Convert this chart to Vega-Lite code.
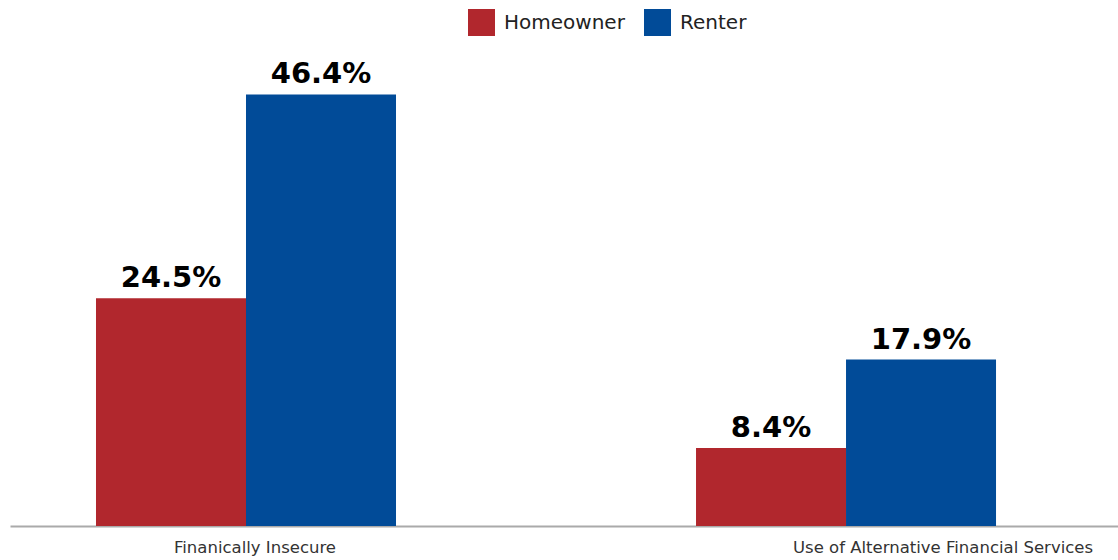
{
  "$schema": "https://vega.github.io/schema/vega-lite/v6.json",
  "autosize": {"type": "none"},
  "padding": {"left": 10, "top": 61, "right": 0, "bottom": 34},
  "width": 1108,
  "height": 465,
  "config": {"view": {"stroke": null}},
  "data": {
    "values": [
      {"category": "Finanically Insecure", "tenure": "Homeowner", "value": 24.5, "label": "24.5%"},
      {"category": "Finanically Insecure", "tenure": "Renter", "value": 46.4, "label": "46.4%"},
      {"category": "Use of Alternative Financial Services", "tenure": "Homeowner", "value": 8.4, "label": "8.4%"},
      {"category": "Use of Alternative Financial Services", "tenure": "Renter", "value": 17.9, "label": "17.9%"}
    ]
  },
  "encoding": {
    "x": {
      "field": "category",
      "type": "nominal",
      "sort": null,
      "scale": {"paddingInner": 0.5, "paddingOuter": 0.1733, "align": 0.4135},
      "axis": {
        "title": null,
        "labelAngle": 0,
        "ticks": false,
        "domainColor": "#aaaaaa",
        "domainWidth": 2,
        "labelFont": "DejaVu Sans",
        "labelFontSize": 16.5,
        "labelColor": "#333333",
        "labelPadding": 13,
        "labelLimit": 0,
        "labelOffset": {"condition": {"test": "datum.value == 'Use of Alternative Financial Services'", "value": 97}, "value": 9}
      }
    },
    "xOffset": {
      "field": "tenure",
      "type": "nominal",
      "sort": ["Homeowner", "Renter"],
      "scale": {"paddingInner": 0, "paddingOuter": 0}
    },
    "y": {
      "field": "value",
      "type": "quantitative",
      "scale": {"domain": [0, 50]},
      "axis": null
    }
  },
  "layer": [
    {
      "mark": {"type": "bar"},
      "encoding": {
        "color": {
          "field": "tenure",
          "type": "nominal",
          "sort": ["Homeowner", "Renter"],
          "scale": {"domain": ["Homeowner", "Renter"], "range": ["#B1272D", "#014B98"]},
          "legend": {
            "title": null,
            "orient": "none",
            "direction": "horizontal",
            "legendX": 458,
            "legendY": -52,
            "symbolType": "square",
            "symbolSize": 729,
            "symbolStrokeWidth": 0,
            "symbolOpacity": 1,
            "labelFont": "DejaVu Sans",
            "labelFontSize": 20,
            "labelColor": "#222222",
            "labelOffset": 9,
            "columnPadding": 19
          }
        }
      }
    },
    {
      "mark": {"type": "text", "baseline": "alphabetic", "dy": -11, "font": "DejaVu Sans", "fontWeight": "bold", "fontSize": 29, "color": "#000000"},
      "encoding": {
        "text": {"field": "label"}
      }
    }
  ]
}
